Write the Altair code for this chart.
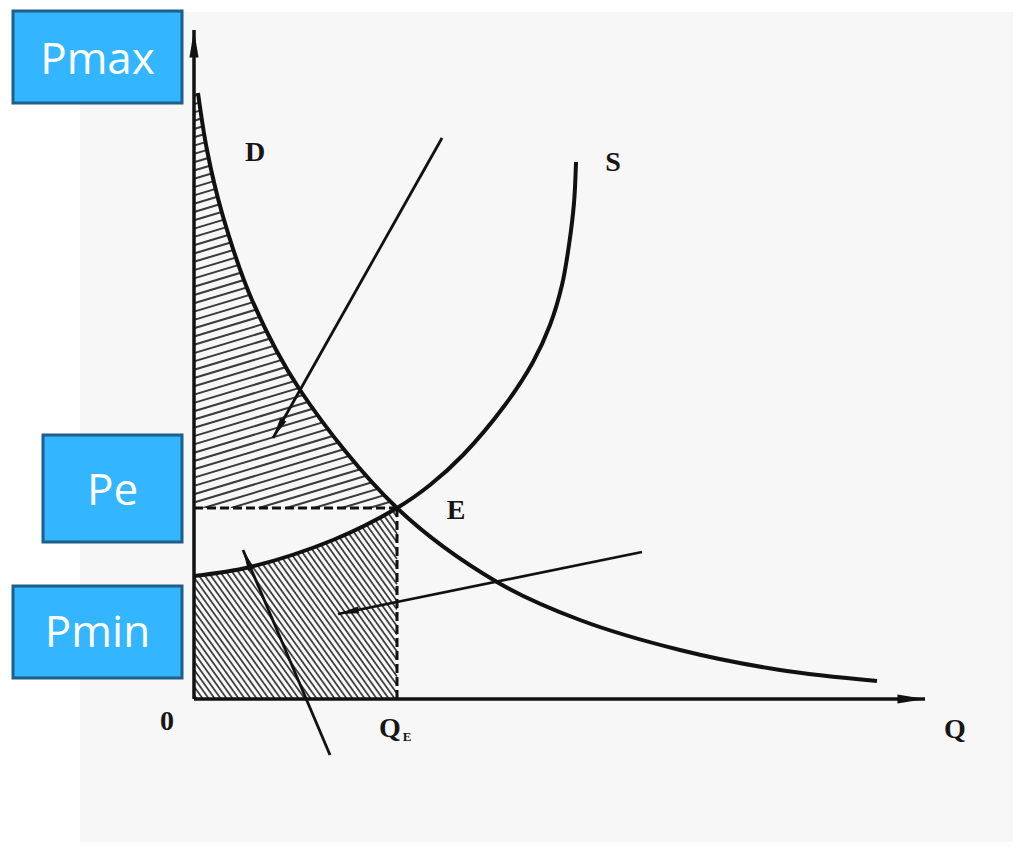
import math
import altair as alt
import numpy as np
import pandas as pd

# ---------------- data (diagram units) ----------------
# Demand curve D
D_Q = [0.04, 0.13, 0.28, 0.58, 1.06, 2.03, 3.03, 3.86, 4.86, 5.86, 6.83]
D_P = [6.06, 5.49, 4.86, 3.99, 3.09, 1.91, 1.17, 0.79, 0.49, 0.29, 0.18]
# Supply curve S
S_Q = [0.0, 0.56, 1.39, 2.03, 2.36, 2.69, 3.11, 3.39, 3.56, 3.68, 3.75, 3.80, 3.82]
S_P = [1.23, 1.32, 1.59, 1.91, 2.14, 2.44, 2.94, 3.37, 3.74, 4.14, 4.54, 4.96, 5.37]
# Equilibrium
QE = 2.03
PE = 1.91
# Axis ends
AXIS_Q_END = 7.31
AXIS_P_END = 6.69
# Pointer arrows: start -> tip
ARROW_Q0 = [2.48, 4.48, 1.36]
ARROW_P0 = [5.61, 1.47, -0.56]
ARROW_Q1 = [0.79, 1.44, 0.49]
ARROW_P1 = [2.61, 0.85, 1.49]
# Letter labels
LABEL_TEXT = ["D", "S", "E", "0", "Q"]
LABEL_Q = [0.61, 4.19, 2.62, -0.27, 7.61]
LABEL_P = [5.46, 5.36, 1.88, -0.23, -0.31]
# Q_E label
QE_LABEL_Q = [1.96, 2.13]
QE_LABEL_P = [-0.30, -0.38]
QE_LABEL_TEXT = ["Q", "E"]
# Blue price boxes
BOX_TEXT = ["Pmax", "Pe", "Pmin"]
BOX_Q0 = [-1.81, -1.51, -1.81]
BOX_Q1 = [-0.12, -0.12, -0.12]
BOX_P0 = [6.88, 2.64, 1.13]
BOX_P1 = [5.96, 1.57, 0.21]
BOX_TQ = [-0.965, -0.815, -0.965]
BOX_TP = [6.38, 2.07, 0.65]

# ---------------- scales ----------------
XD = [-1.86, 8.19]
YD = [-1.43, 6.91]
xs = alt.Scale(domain=XD, nice=False, zero=False)
ys = alt.Scale(domain=YD, nice=False, zero=False)


def X(f):
    return alt.X(f, type="quantitative", scale=xs, axis=None)


def Y(f):
    return alt.Y(f, type="quantitative", scale=ys, axis=None)


BG = "#f7f7f7"
INK = "#111111"
CURVE = "catmull-rom"

# background panel
bg = pd.DataFrame({"q0": [-1.14], "q1": [XD[1]], "p0": [6.87], "p1": [YD[0]]})
bg_layer = alt.Chart(bg).mark_rect(fill=BG).encode(
    x=X("q0"), x2="q1", y=Y("p0"), y2="p1")

# hatch pattern (styling geometry for the two shaded regions)
P_TOP = D_P[0]
m_up, dc_up = 0.30, 0.083
up = []
for c in np.arange(PE - m_up * QE, P_TOP, dc_up):
    xa = max(0.0, (PE - c) / m_up)
    xb = min(QE, (P_TOP - c) / m_up)
    if xb > xa:
        up.append((xa, c + m_up * xa, xb, c + m_up * xb))
k_lo, dc_lo = 1.4, 0.084
lo = []
for c in np.arange(dc_lo / 2, PE + k_lo * QE, dc_lo):
    xa = max(0.0, (c - PE) / k_lo)
    xb = min(QE, c / k_lo)
    if xb > xa:
        lo.append((xa, c - k_lo * xa, xb, c - k_lo * xb))
up_df = pd.DataFrame(up, columns=["q0", "p0", "q1", "p1"])
lo_df = pd.DataFrame(lo, columns=["q0", "p0", "q1", "p1"])
hatch_up = alt.Chart(up_df).mark_rule(color="#3a3a3a", strokeWidth=2).encode(
    x=X("q0"), y=Y("p0"), x2="q1", y2="p1")
hatch_lo = alt.Chart(lo_df).mark_rule(color="#3a3a3a", strokeWidth=1.7).encode(
    x=X("q0"), y=Y("p0"), x2="q1", y2="p1")

# masks that trim the hatching to the curves
dmask = pd.DataFrame({"Q": D_Q, "P": D_P, "top": [P_TOP + 0.2] * len(D_Q)})
smask = pd.DataFrame({"Q": S_Q, "P": S_P, "pe": [PE] * len(S_Q)})
mask_d = alt.Chart(dmask).mark_area(color=BG, interpolate=CURVE, opacity=1).encode(
    x=X("Q"), y=Y("P"), y2="top")
mask_s = alt.Chart(smask).mark_area(color=BG, interpolate=CURVE, opacity=1).encode(
    x=X("Q"), y=Y("P"), y2="pe")

# dashed guides
dash = pd.DataFrame({"q0": [0, QE], "p0": [PE, 0], "q1": [QE, QE], "p1": [PE, PE]})
dash_layer = alt.Chart(dash).mark_rule(color=INK, strokeWidth=3, strokeDash=[9, 4]).encode(
    x=X("q0"), y=Y("p0"), x2="q1", y2="p1")

# axes
ax = pd.DataFrame({"q0": [0, 0], "p0": [0, 0], "q1": [0, AXIS_Q_END], "p1": [AXIS_P_END, 0]})
ax_layer = alt.Chart(ax).mark_rule(color=INK, strokeWidth=3.5).encode(
    x=X("q0"), y=Y("p0"), x2="q1", y2="p1")

# curves
curves = pd.concat([
    pd.DataFrame({"Q": D_Q, "P": D_P, "curve": "D"}),
    pd.DataFrame({"Q": S_Q, "P": S_P, "curve": "S"}),
])
curve_layer = alt.Chart(curves).mark_line(color=INK, strokeWidth=4, interpolate=CURVE).encode(
    x=X("Q"), y=Y("P"), detail="curve:N")

# pointer arrows
arr = pd.DataFrame({"q0": ARROW_Q0, "p0": ARROW_P0, "q1": ARROW_Q1, "p1": ARROW_P1})
arr_layer = alt.Chart(arr).mark_rule(color=INK, strokeWidth=2.8).encode(
    x=X("q0"), y=Y("p0"), x2="q1", y2="p1")

heads = []
for q0, p0, q1, p1 in zip(ARROW_Q0, ARROW_P0, ARROW_Q1, ARROW_P1):
    ang = math.degrees(math.atan2(q1 - q0, p1 - p0)) % 360
    heads.append((q1, p1, ang, 440))
heads.append((0, AXIS_P_END, 0, 760))
heads.append((AXIS_Q_END, 0, 90, 760))
head_df = pd.DataFrame(heads, columns=["q", "p", "ang", "sz"])
head_layer = alt.Chart(head_df).mark_point(
    shape="M0,0L-0.33,2L0.33,2Z", filled=True, fill=INK, opacity=1, strokeWidth=0
).encode(x=X("q"), y=Y("p"),
         angle=alt.Angle("ang:Q", scale=None),
         size=alt.Size("sz:Q", scale=None))

# letter labels
lab = pd.DataFrame({"q": LABEL_Q, "p": LABEL_P, "t": LABEL_TEXT})
lab_layer = alt.Chart(lab).mark_text(
    font="Liberation Serif", fontWeight="bold", fontSize=28, color="#161616",
    align="center", baseline="middle").encode(x=X("q"), y=Y("p"), text="t:N")
qe = pd.DataFrame({"q": QE_LABEL_Q, "p": QE_LABEL_P, "t": QE_LABEL_TEXT,
                   "fs": [28, 13]})
qe_layer = alt.Chart(qe).mark_text(
    font="Liberation Serif", fontWeight="bold", color="#161616",
    align="center", baseline="middle").encode(
    x=X("q"), y=Y("p"), text="t:N", size=alt.Size("fs:Q", scale=None))

# blue price boxes
box = pd.DataFrame({"q0": BOX_Q0, "q1": BOX_Q1, "p0": BOX_P0, "p1": BOX_P1,
                    "tq": BOX_TQ, "tp": BOX_TP, "t": BOX_TEXT})
box_layer = alt.Chart(box).mark_rect(fill="#33b5ff", stroke="#1f5f8c", strokeWidth=3).encode(
    x=X("q0"), x2="q1", y=Y("p0"), y2="p1")
box_text = alt.Chart(box).mark_text(
    font="Open Sans", fontSize=44, color="white", align="center", baseline="middle"
).encode(x=X("tq"), y=Y("tp"), text="t:N")

chart = alt.layer(
    bg_layer, hatch_up, hatch_lo, mask_d, mask_s, dash_layer, ax_layer,
    curve_layer, arr_layer, head_layer, lab_layer, qe_layer, box_layer, box_text
).properties(
    width=1005, height=834, padding=0,
    autosize=alt.AutoSizeParams(type="none"), background="white"
).configure_view(stroke=None)

chart.save("out.html", embed_options={"renderer": "svg", "actions": False})
